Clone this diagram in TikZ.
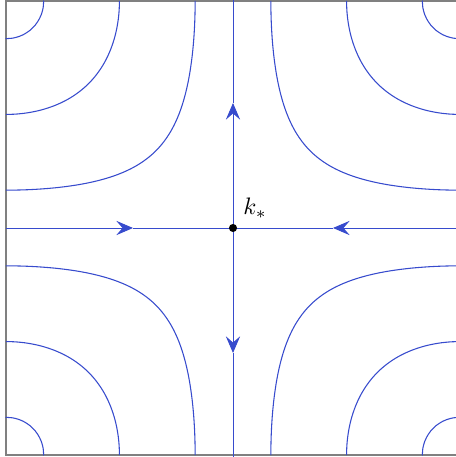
\documentclass[tikz,border=0pt]{standalone}
\usetikzlibrary{arrows.meta}
\definecolor{flow}{RGB}{55,75,205}
\definecolor{frameg}{RGB}{128,128,128}
\begin{document}
\begin{tikzpicture}[x=0.42pt,y=0.42pt,
  flowline/.style={draw=flow,line width=0.45pt},
  axisline/.style={draw=flow,line width=0.38pt},
  tip/.style={flow,line width=0.38pt,-{Stealth[length=7pt,width=6pt,inset=2.6pt]}},
  framebox/.style={draw=frameg,line width=0.7pt}]
\useasboundingbox (-233,-229) rectangle (222,228);
\draw[framebox] (-227,-227) rectangle (227,227);
\foreach \c in {0.258819,0.707107,0.965926}{
  \foreach \sx/\sy in {1/1,-1/1,1/-1,-1/-1}{
    \draw[flowline,variable=\t,domain=0:1,samples=61,smooth]
      plot ({\sx*227/90*asin(min(1,pow(\c,(1-cos(180*\t))/2)))},
            {\sy*227/90*asin(min(1,pow(\c,(1+cos(180*\t))/2)))});
  }
}
\coordinate (L) at (-227,0);
\coordinate (R) at (227,0);
\coordinate (T) at (0,229);
\coordinate (B) at (0,-229);
\coordinate (la) at (-100,0);
\coordinate (ra) at (100,0);
\coordinate (ta) at (0,125);
\coordinate (ba) at (0,-125);
\coordinate (c0) at (0,0);
\draw[tip] (L) -- (la);
\draw[axisline] (la) -- (c0);
\draw[tip] (R) -- (ra);
\draw[axisline] (ra) -- (c0);
\draw[tip] (c0) -- (ta);
\draw[axisline] (ta) -- (T);
\draw[tip] (c0) -- (ba);
\draw[axisline] (ba) -- (B);
\node[circle,fill=black,inner sep=0pt,minimum size=3.4pt] (k) at (c0) {};
\node[anchor=base west,inner sep=0pt] (lab) at (10,13) {$k_*$};
\end{tikzpicture}
\end{document}
